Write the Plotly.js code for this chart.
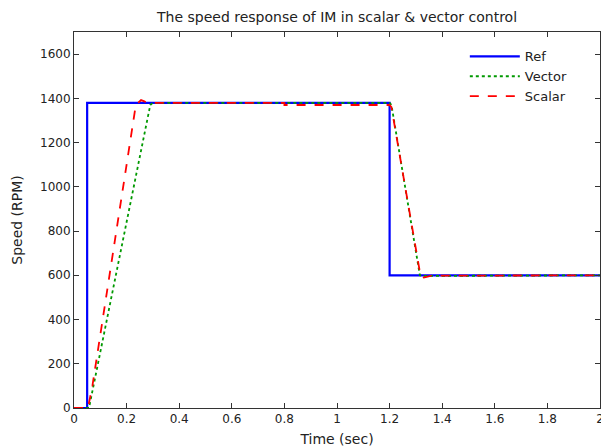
<!DOCTYPE html>
<html>
<head>
<meta charset="utf-8">
<script src="https://cdn.plot.ly/plotly-3.0.1.min.js"></script>
<style>
html,body{margin:0;padding:0;background:#fff;}
#chart{width:601px;height:447px;}
</style>
</head>
<body>
<div id="chart"></div>
<script>
// Reference speed command
const refTime  = [0, 0.05, 0.05, 1.2, 1.2, 2.0];
const refSpeed = [0, 0, 1380, 1380, 600, 600];

// Vector control response
const vecTime  = [0, 0.057, 0.08, 0.14, 0.2, 0.26, 0.29, 0.30, 1.2, 1.207, 1.25, 1.30, 1.315, 1.33, 2.0];
const vecSpeed = [0, 0, 135, 488, 841, 1194, 1370, 1380, 1380, 1370, 1062, 709, 600, 597, 600];

// Scalar control response
const scaTime  = [0, 0.053, 0.07, 0.10, 0.15, 0.20, 0.235, 0.255, 0.27, 0.30, 0.80, 0.80, 1.2, 1.207, 1.25, 1.30, 1.318, 1.33, 1.36, 2.0];
const scaSpeed = [0, 0, 100, 330, 720, 1110, 1370, 1392, 1385, 1380, 1380, 1370, 1370, 1360, 1060, 710, 595, 590, 598, 600];

const xTicks = [0, 0.2, 0.4, 0.6, 0.8, 1, 1.2, 1.4, 1.6, 1.8, 2];
const xTickText = ['0', '0.2', '0.4', '0.6', '0.8', '1', '1.2', '1.4', '1.6', '1.8', '2'];
const yTicks = [0, 200, 400, 600, 800, 1000, 1200, 1400, 1600];

const FONT = 'DejaVu Sans, Liberation Sans, Arial, sans-serif';

const traces = [
  {x: refTime, y: refSpeed, name: 'Ref', mode: 'lines',
   line: {color: '#0000ff', width: 2.2}},
  {x: vecTime, y: vecSpeed, name: 'Vector', mode: 'lines',
   line: {color: '#009900', width: 1.8, dash: 'dot'}},
  {x: scaTime, y: scaSpeed, name: 'Scalar', mode: 'lines',
   line: {color: '#ff0000', width: 1.8, dash: 'dash'}}
];

const axisCommon = {
  showgrid: false, zeroline: false,
  showline: true, linecolor: '#333', linewidth: 1,
  mirror: 'ticks', ticks: 'inside', ticklen: 5, tickcolor: '#333',
  ticklabeloverflow: 'allow',
  tickfont: {family: FONT, size: 12, color: '#222'}
};

const layout = {
  width: 601, height: 447,
  margin: {l: 74, r: 1, t: 32, b: 39},
  paper_bgcolor: '#fff', plot_bgcolor: '#fff',
  font: {family: FONT, color: '#222'},
  title: {text: 'The speed response of IM in scalar & vector control',
          font: {family: FONT, size: 14, color: '#222'},
          x: 0.5608, xanchor: 'center', y: 0.962, yanchor: 'middle'},
  xaxis: Object.assign({}, axisCommon, {
    range: [0, 2], tickvals: xTicks, ticktext: xTickText,
    title: {text: 'Time (sec)', font: {family: FONT, size: 14, color: '#222'}, standoff: 8}
  }),
  yaxis: Object.assign({}, axisCommon, {
    range: [0, 1700], tickvals: yTicks,
    title: {text: 'Speed (RPM)', font: {family: FONT, size: 14, color: '#222'}, standoff: 14}
  }),
  showlegend: true,
  legend: {
    x: 0.743, xanchor: 'left', y: 0.975, yanchor: 'top',
    bgcolor: 'rgba(0,0,0,0)', borderwidth: 0,
    font: {family: FONT, size: 13, color: '#222'},
    itemwidth: 50
  }
};

Plotly.newPlot('chart', traces, layout, {displayModeBar: false, staticPlot: true});
</script>
</body>
</html>
